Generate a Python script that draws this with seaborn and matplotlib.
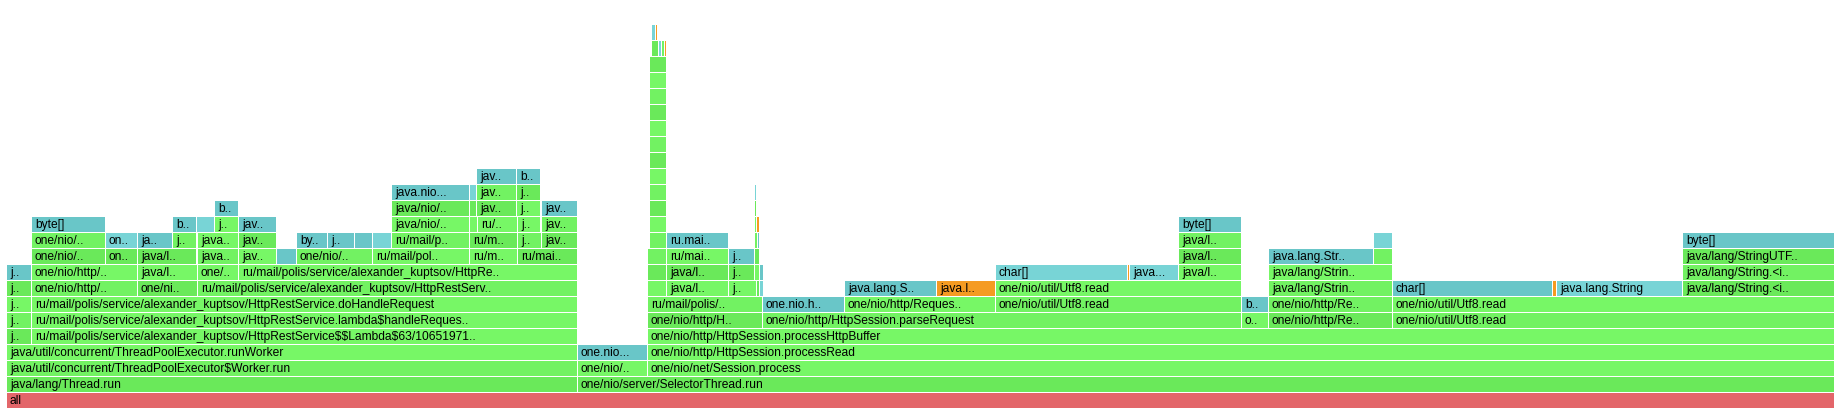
"""
Flame graph (async-profiler style) - alloc profile of the HTTP server
"""

import pandas as pd
import matplotlib
matplotlib.use("Agg")
import matplotlib.pyplot as plt
import seaborn as sns

# ─────────────────────────────────────────────
# DATA: frames per stack depth -> (name, first sample, last sample, kind)
# kind: g = java frame, t = allocated type, l = inlined, o = native/kernel, r = root
# ─────────────────────────────────────────────
level_0 = [("all", 0, 1828, "r")]
level_1 = [("java/lang/Thread.run", 0, 571, "g"),
           ("one/nio/server/SelectorThread.run", 571, 1828, "g")]
level_2 = [("java/util/concurrent/ThreadPoolExecutor$Worker.run", 0, 571, "g"),
           ("one/nio/..", 571, 641, "g"),
           ("one/nio/net/Session.process", 641, 1828, "g")]
level_3 = [("java/util/concurrent/ThreadPoolExecutor.runWorker", 0, 571, "g"),
           ("one.nio...", 571, 641, "t"),
           ("one/nio/http/HttpSession.processRead", 641, 1828, "g")]
level_4 = [("j..", 0, 25, "g"),
           ("ru/mail/polis/service/alexander_kuptsov/HttpRestService$$Lambda$63/10651971..", 25, 571, "g"),
           ("one/nio/http/HttpSession.processHttpBuffer", 641, 1828, "g")]
level_5 = [("j..", 0, 25, "g"),
           ("ru/mail/polis/service/alexander_kuptsov/HttpRestService.lambda$handleReques..", 25, 571, "g"),
           ("one/nio/http/H..", 641, 756, "g"),
           ("one/nio/http/HttpSession.parseRequest", 756, 1235, "g"),
           ("o..", 1235, 1262, "g"),
           ("one/nio/http/Re..", 1262, 1386, "g"),
           ("one/nio/util/Utf8.read", 1386, 1828, "g")]
level_6 = [("j..", 0, 25, "g"),
           ("ru/mail/polis/service/alexander_kuptsov/HttpRestService.doHandleRequest", 25, 571, "g"),
           ("ru/mail/polis/..", 641, 756, "g"),
           ("one.nio.h..", 756, 838, "t"),
           ("one/nio/http/Reques..", 838, 989, "g"),
           ("one/nio/util/Utf8.read", 989, 1235, "g"),
           ("b..", 1235, 1262, "t"),
           ("one/nio/http/Re..", 1262, 1386, "g"),
           ("one/nio/util/Utf8.read", 1386, 1828, "g")]
level_7 = [("j..", 0, 25, "g"),
           ("one/nio/http/..", 25, 131, "g"),
           ("one/ni..", 131, 191, "g"),
           ("ru/mail/polis/service/alexander_kuptsov/HttpRestServ..", 191, 571, "g"),
           ("", 641, 660, "g"),
           ("java/l..", 660, 722, "g"),
           ("j..", 722, 750, "g"),
           ("", 750, 753, "g"),
           ("", 753, 757, "l"),
           ("java.lang.S..", 838, 930, "t"),
           ("java.l..", 930, 989, "o"),
           ("one/nio/util/Utf8.read", 989, 1235, "g"),
           ("java/lang/Strin..", 1262, 1386, "g"),
           ("char[]", 1386, 1546, "t"),
           ("", 1546, 1550, "o"),
           ("java.lang.String", 1550, 1676, "l"),
           ("java/lang/String.<i..", 1676, 1828, "g")]
level_8 = [("j..", 0, 25, "t"),
           ("one/nio/http/..", 25, 131, "g"),
           ("java/l..", 131, 191, "g"),
           ("one/..", 191, 232, "g"),
           ("ru/mail/polis/service/alexander_kuptsov/HttpRe..", 232, 571, "g"),
           ("", 641, 660, "g"),
           ("java/l..", 660, 722, "g"),
           ("j..", 722, 748, "g"),
           ("", 748, 753, "g"),
           ("", 753, 757, "t"),
           ("char[]", 989, 1121, "l"),
           ("", 1121, 1123, "o"),
           ("java...", 1123, 1172, "l"),
           ("java/l..", 1172, 1235, "g"),
           ("java/lang/Strin..", 1262, 1386, "g"),
           ("java/lang/String.<i..", 1676, 1828, "g")]
level_9 = [("one/nio/..", 25, 99, "g"),
           ("on..", 99, 131, "g"),
           ("java/l..", 131, 190, "g"),
           ("java..", 191, 232, "g"),
           ("jav..", 232, 270, "g"),
           ("", 270, 290, "t"),
           ("one/nio/..", 290, 366, "g"),
           ("ru/mail/pol..", 366, 463, "g"),
           ("ru/m..", 463, 511, "g"),
           ("ru/mai..", 511, 571, "g"),
           ("", 641, 660, "g"),
           ("ru/mai..", 660, 722, "g"),
           ("j..", 722, 748, "t"),
           ("", 748, 753, "g"),
           ("java/l..", 1172, 1235, "g"),
           ("java.lang.Str..", 1262, 1367, "t"),
           ("", 1367, 1386, "g"),
           ("java/lang/StringUTF..", 1676, 1828, "g")]
level_10 = [("one/nio/..", 25, 99, "g"),
            ("on..", 99, 131, "l"),
            ("ja..", 131, 166, "t"),
            ("j..", 166, 190, "g"),
            ("java..", 191, 232, "g"),
            ("jav..", 232, 270, "g"),
            ("by..", 290, 321, "t"),
            ("j..", 321, 348, "t"),
            ("", 348, 366, "t"),
            ("", 366, 385, "l"),
            ("ru/mail/p..", 385, 463, "g"),
            ("ru/m..", 463, 511, "g"),
            ("j..", 511, 535, "g"),
            ("jav..", 535, 571, "g"),
            ("", 643, 660, "g"),
            ("ru.mai..", 660, 722, "t"),
            ("", 748, 751, "g"),
            ("", 751, 753, "t"),
            ("java/l..", 1172, 1235, "g"),
            ("", 1367, 1386, "l"),
            ("byte[]", 1676, 1828, "t")]
level_11 = [("byte[]", 25, 99, "t"),
            ("b..", 166, 190, "t"),
            ("", 190, 208, "l"),
            ("j..", 208, 232, "g"),
            ("jav..", 232, 270, "t"),
            ("java/nio/..", 385, 463, "g"),
            ("", 463, 471, "g"),
            ("ru/..", 471, 511, "g"),
            ("j..", 511, 534, "g"),
            ("jav..", 535, 571, "g"),
            ("", 643, 660, "g"),
            ("", 748, 750, "g"),
            ("", 750, 753, "o"),
            ("byte[]", 1172, 1235, "t")]
level_12 = [("b..", 208, 232, "t"),
            ("java/nio/..", 385, 463, "g"),
            ("", 463, 470, "g"),
            ("jav..", 470, 510, "g"),
            ("j..", 510, 534, "g"),
            ("jav..", 535, 571, "t"),
            ("", 643, 660, "g"),
            ("", 748, 750, "g")]
level_13 = [("java.nio...", 385, 463, "t"),
            ("", 463, 470, "l"),
            ("jav..", 470, 510, "g"),
            ("j..", 510, 534, "g"),
            ("", 643, 660, "g"),
            ("", 748, 750, "l")]
level_14 = [("jav..", 470, 510, "t"),
            ("b..", 510, 534, "t"),
            ("", 643, 660, "g")]
level_15 = [("", 643, 660, "g")]
level_16 = [("", 643, 660, "g")]
level_17 = [("", 643, 660, "g")]
level_18 = [("", 643, 660, "g")]
level_19 = [("", 643, 660, "g")]
level_20 = [("", 643, 660, "g")]
level_21 = [("", 643, 660, "g")]
level_22 = [("", 645, 652, "g"),
            ("", 652, 655, "l"),
            ("", 655, 658, "g"),
            ("", 658, 660, "o")]
level_23 = [("", 645, 649, "l"),
            ("", 649, 651, "o")]

levels = [level_0, level_1, level_2, level_3, level_4, level_5, level_6, level_7,
          level_8, level_9, level_10, level_11, level_12, level_13, level_14,
          level_15, level_16, level_17, level_18, level_19, level_20, level_21,
          level_22, level_23]

rows = []
for depth, frames in enumerate(levels):
    for name, first, last, kind in frames:
        rows.append({"depth": depth, "name": name, "start": first,
                     "samples": last - first, "kind": kind})
frames_df = pd.DataFrame(rows)

# ─────────────────────────────────────────────
# COLOURS
# ─────────────────────────────────────────────
greens = ["#77f766", "#6ae95a", "#72f262"]
kind_colors = {"t": "#69c6c8", "l": "#78d4d6", "o": "#f59b22", "r": "#e3666a"}


def frame_color(row):
    if row["kind"] == "g":
        # deterministic small variation like the profiler's palette
        key = sum(ord(c) for c in row["name"]) + row["depth"] * 7 + int(row["start"])
        return greens[key % len(greens)]
    return kind_colors[row["kind"]]


frames_df["color"] = frames_df.apply(frame_color, axis=1)

# ─────────────────────────────────────────────
# PLOT
# ─────────────────────────────────────────────
sns.set_theme(style="white")
plt.rcParams["font.family"] = ["Liberation Sans", "DejaVu Sans"]

fig = plt.figure(figsize=(18.39, 4.12), dpi=100)
ax = fig.add_axes([0, 0, 1, 1])

row_h = 15 / 16
ax.barh(frames_df["depth"] + row_h / 2,
        (frames_df["samples"] - 1).clip(lower=1),
        left=frames_df["start"],
        height=row_h,
        color=frames_df["color"],
        linewidth=0,
        align="center")

for _, fr in frames_df.iterrows():
    if fr["name"]:
        ax.text(fr["start"] + 3, fr["depth"] + row_h / 2, fr["name"],
                ha="left", va="center", fontsize=8.64, color="black",
                parse_math=False, clip_on=True)

ax.set_xlim(-7, 1832)
ax.set_ylim(-0.23, 25.52)
ax.axis("off")

fig.savefig("out.png", dpi=100)
plt.close(fig)
